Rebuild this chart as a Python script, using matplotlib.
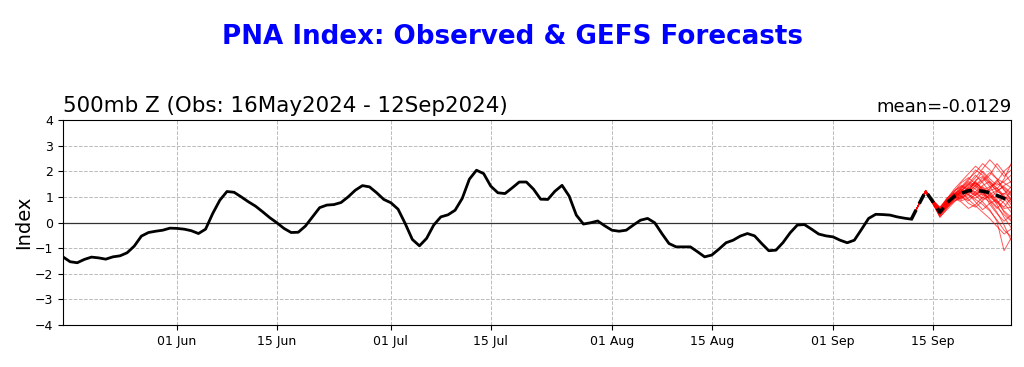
import matplotlib
matplotlib.use("Agg")
import matplotlib.pyplot as plt
import matplotlib.dates as mdates
import numpy as np
import pandas as pd

# observed daily PNA index, 16 May 2024 - 12 Sep 2024
obs = [
    -1.34, -1.53, -1.57, -1.44, -1.35, -1.38, -1.43, -1.34, -1.30, -1.18,
    -0.92, -0.53, -0.39, -0.34, -0.30, -0.22,
    -0.23, -0.26, -0.32, -0.43, -0.26, 0.35, 0.87, 1.21, 1.18, 1.00,
    0.81, 0.64, 0.42, 0.19, -0.01, -0.23, -0.39, -0.38, -0.14, 0.22,
    0.58, 0.68, 0.70, 0.78, 1.00, 1.26, 1.44, 1.39, 1.16, 0.90,
    0.77, 0.52, -0.04, -0.66, -0.91, -0.62, -0.10, 0.22, 0.30, 0.48,
    0.94, 1.69, 2.04, 1.91, 1.42, 1.16, 1.13, 1.35, 1.58, 1.58,
    1.30, 0.91, 0.90, 1.22, 1.45, 1.03, 0.29, -0.06, -0.01, 0.06, -0.13,
    -0.30, -0.34, -0.30, -0.10, 0.09, 0.16, -0.01, -0.43, -0.82, -0.95,
    -0.95, -0.95, -1.14, -1.34, -1.27, -1.04, -0.79, -0.69, -0.53, -0.43,
    -0.52, -0.82, -1.10, -1.08, -0.78, -0.40, -0.10, -0.08, -0.26, -0.45, -0.52,
    -0.56, -0.69, -0.79, -0.69, -0.27, 0.16, 0.32, 0.31, 0.29, 0.22,
    0.17, 0.13,
]
obs_dates = pd.date_range("2024-05-16", periods=len(obs), freq="D")

# GEFS ensemble mean, 12 Sep - 26 Sep
ens_mean = [0.13, 0.68, 1.22, 0.82, 0.40, 0.77, 1.02, 1.14, 1.24, 1.26,
            1.22, 1.16, 1.06, 0.94, 0.84]
fc_dates = pd.date_range("2024-09-12", periods=len(ens_mean), freq="D")

# members from 14 Sep on (12 and 13 Sep are shared)
members = [
    [1.25, 0.85, 0.55, 0.95, 1.25, 1.40, 1.70, 1.95, 2.30, 2.05, 1.70, 1.55, 1.35],
    [1.20, 0.75, 0.30, 0.60, 0.85, 0.95, 1.05, 0.90, 0.70, 0.45, 0.10, -0.30, -0.55],
    [1.18, 0.82, 0.45, 0.80, 1.10, 1.30, 1.55, 1.40, 1.10, 0.95, 1.20, 1.45, 1.60],
    [1.24, 0.78, 0.20, 0.55, 0.95, 1.20, 1.10, 0.80, 0.50, 0.75, 0.90, 0.40, 0.10],
    [1.22, 0.88, 0.60, 0.90, 1.05, 0.90, 1.20, 1.65, 1.80, 1.50, 1.25, 1.00, 0.90],
    [1.21, 0.76, 0.35, 0.70, 0.95, 1.25, 1.45, 1.75, 2.10, 2.45, 2.15, 1.80, 2.05],
    [1.23, 0.80, 0.42, 0.85, 1.15, 1.05, 0.75, 0.60, 0.85, 1.10, 0.70, 0.20, -0.20],
    [1.19, 0.74, 0.25, 0.65, 0.90, 1.10, 1.35, 1.55, 1.30, 1.05, 0.95, 1.15, 0.95],
    [1.26, 0.84, 0.50, 0.75, 1.00, 1.35, 1.60, 1.45, 1.65, 1.95, 1.70, 1.25, 1.05],
    [1.22, 0.79, 0.38, 0.72, 0.95, 0.80, 0.55, 0.70, 1.00, 0.80, 0.40, -0.10, -0.70],
    [1.20, 0.83, 0.47, 0.88, 1.20, 1.45, 1.30, 1.10, 1.25, 1.40, 1.55, 1.30, 0.85],
    [1.25, 0.77, 0.32, 0.68, 1.00, 1.20, 1.50, 1.85, 1.55, 1.20, 0.85, 0.60, 0.95],
    [1.21, 0.81, 0.44, 0.80, 1.05, 1.15, 1.25, 1.05, 0.80, 0.50, 0.05, -1.10, -0.60],
    [1.23, 0.86, 0.58, 0.95, 1.15, 1.00, 1.10, 1.35, 1.60, 1.85, 2.30, 1.95, 1.55],
    [1.18, 0.73, 0.22, 0.50, 0.80, 1.05, 1.30, 1.20, 0.95, 1.25, 1.35, 1.05, 0.70],
    [1.24, 0.80, 0.40, 0.78, 1.10, 1.30, 1.15, 1.45, 1.75, 1.40, 1.00, 0.75, 0.40],
    [1.22, 0.79, 0.36, 0.62, 0.90, 1.10, 1.40, 1.60, 1.25, 0.85, 0.55, 0.85, 1.25],
    [1.20, 0.82, 0.48, 0.84, 1.00, 0.85, 0.95, 1.20, 1.45, 1.60, 1.35, 0.95, 0.55],
    [1.25, 0.87, 0.55, 0.90, 1.20, 1.55, 1.75, 1.50, 1.20, 0.90, 0.60, 0.30, 0.05],
    [1.19, 0.75, 0.28, 0.70, 1.00, 1.25, 1.10, 0.95, 1.15, 1.30, 1.60, 2.00, 2.25],
    [1.22, 0.80, 0.40, 0.74, 0.95, 1.00, 1.30, 1.55, 1.35, 1.10, 1.25, 1.40, 1.15],
    [1.21, 0.78, 0.34, 0.66, 1.05, 1.20, 0.90, 0.65, 0.40, 0.15, -0.15, -0.45, -0.25],
    [1.23, 0.83, 0.50, 0.82, 1.10, 1.35, 1.65, 2.05, 1.85, 1.55, 1.20, 1.10, 1.40],
    [1.22, 0.79, 0.42, 0.77, 1.00, 1.15, 1.20, 1.05, 1.30, 1.00, 0.75, 1.00, 0.80],
    [1.24, 0.84, 0.52, 0.92, 1.30, 1.60, 1.90, 2.20, 1.95, 1.60, 1.30, 1.70, 2.30],
    [1.20, 0.77, 0.30, 0.58, 0.82, 1.00, 0.85, 1.10, 1.40, 1.15, 0.80, 0.45, 0.20],
    [1.22, 0.81, 0.46, 0.86, 1.08, 1.25, 1.50, 1.30, 1.05, 1.35, 1.65, 1.35, 1.10],
    [1.23, 0.79, 0.39, 0.71, 0.98, 0.95, 1.20, 1.45, 1.20, 0.70, 0.35, 0.05, 0.30],
    [1.21, 0.82, 0.43, 0.79, 1.12, 1.40, 1.25, 1.60, 2.00, 1.70, 1.45, 1.60, 1.85],
    [1.19, 0.76, 0.33, 0.64, 0.92, 1.15, 1.35, 1.15, 0.90, 1.05, 0.80, 0.55, 0.60],
]
member_start = [0.13, 0.68]

fig = plt.figure(figsize=(10.24, 3.67), dpi=100)
ax = fig.add_axes([0.0615, 0.1144, 0.926, 0.5586])
ax.set_axisbelow(True)

ax.axhline(0, color="#333333", lw=0.9, zorder=1.5)
ax.plot(obs_dates, obs, color="black", lw=2, zorder=3)
for m in members:
    ax.plot(fc_dates, member_start + m, color="red", lw=0.7, alpha=0.65, zorder=2)
ax.plot(fc_dates, ens_mean, color="black", lw=2.5, ls=(0, (3, 2)), zorder=4)

ax.set_xlim(pd.Timestamp("2024-05-16"), pd.Timestamp("2024-09-26"))
ax.set_ylim(-4, 4)
ax.set_yticks(np.arange(-4, 5, 1))
ax.xaxis.set_major_locator(mdates.DayLocator(bymonthday=[1, 15]))
ax.xaxis.set_major_formatter(mdates.DateFormatter("%d %b"))
ax.tick_params(labelsize=9)
ax.grid(True, ls="--", color="#bbbbbb", lw=0.7)
ax.set_ylabel("Index", fontsize=14, labelpad=1)

ax.set_title("500mb Z (Obs: 16May2024 - 12Sep2024)", loc="left", fontsize=15.4)
ax.set_title("mean=-0.0129", loc="right", fontsize=13)
fig.suptitle("PNA Index: Observed & GEFS Forecasts", fontsize=18.8,
             fontweight="bold", color="blue", y=0.935)

fig.savefig("out.png", dpi=100)
